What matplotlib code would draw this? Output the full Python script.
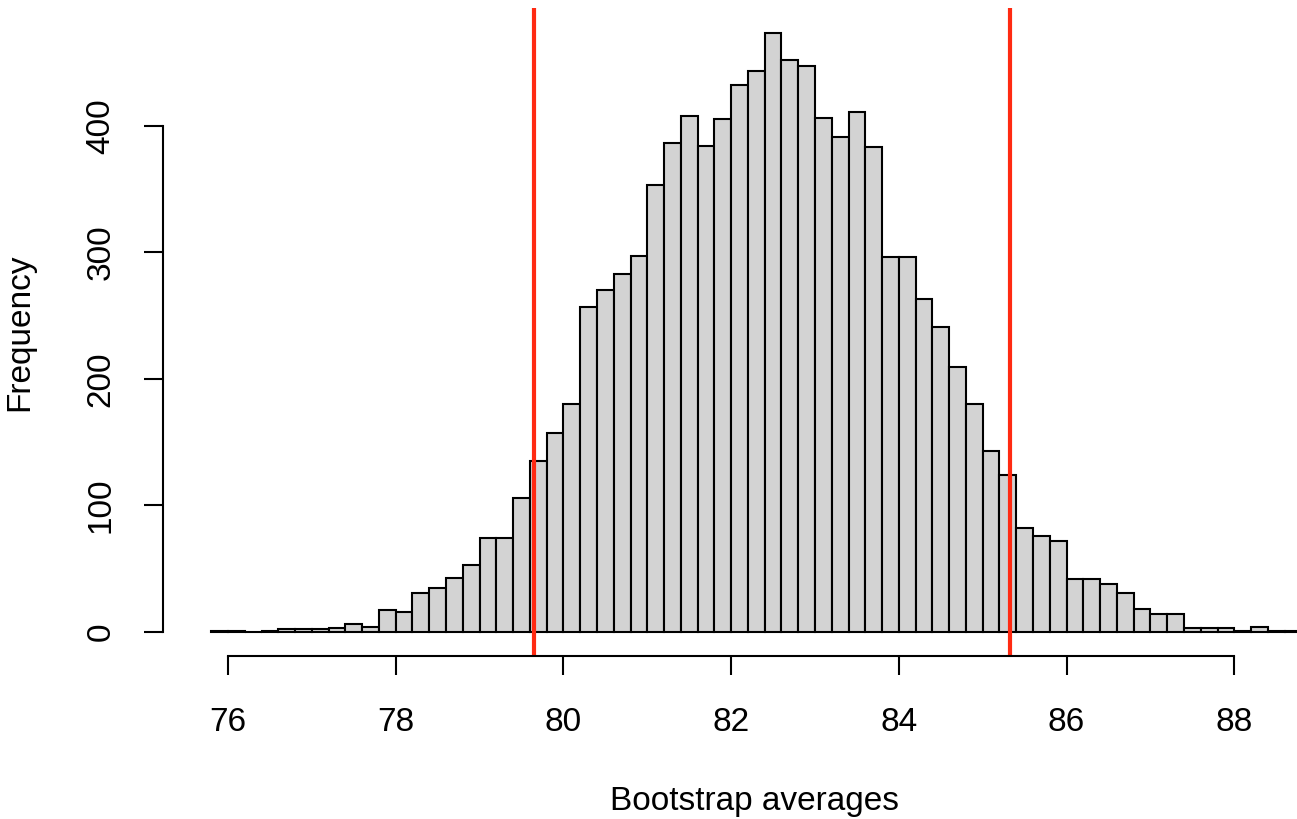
# Bootstrap averages histogram (R-style base graphics look)

import numpy as np
import matplotlib.pyplot as plt

plt.rcParams['font.family'] = ['Liberation Sans', 'DejaVu Sans']

# bin layout: 0.2 wide bins starting at 75.8
bin_start = 75.8
bin_width = 0.2
counts = [1, 1, 0, 1, 2, 2, 2, 3, 6, 4,
          17, 16, 31, 35, 43, 53, 74, 74, 106, 135,
          157, 180, 257, 270, 283, 297, 353, 386, 408, 384,
          405, 432, 443, 473, 452, 447, 406, 391, 411, 383,
          296, 296, 263, 241, 209, 180, 143, 124, 82, 76,
          72, 42, 42, 38, 31, 18, 14, 14, 3, 3,
          3, 1, 4, 1, 1]

# confidence interval limits (red lines)
ci_low = 79.645
ci_high = 85.33

x_ticks = [76, 78, 80, 82, 84, 86, 88]
y_ticks = [0, 100, 200, 300, 400]

edges = bin_start + bin_width * np.arange(len(counts))

fig = plt.figure(figsize=(12.97, 8.19), dpi=100)
# plot region runs past the right edge of the picture, like the cropped original
ax = fig.add_axes([163/1297, 163/819, 1182/1297, 648/819])

ax.bar(edges, counts, width=bin_width, align='edge',
       color='#d3d3d3', edgecolor='black', linewidth=1.5)

ax.axvline(ci_low, color='#ff2a12', linewidth=3)
ax.axvline(ci_high, color='#ff2a12', linewidth=3)

ax.set_xlim(75.225, 89.32)
ax.set_ylim(-19, 493)

for s in ['top', 'right']:
    ax.spines[s].set_visible(False)
ax.spines['bottom'].set_bounds(76, 88)
ax.spines['left'].set_bounds(0, 400)
ax.spines['bottom'].set_linewidth(1.5)
ax.spines['left'].set_linewidth(1.5)

ax.set_xticks(x_ticks)
ax.set_yticks(y_ticks)
ax.tick_params(axis='both', direction='out', length=13.5, width=1.5,
               labelsize=24, pad=20)
ax.tick_params(axis='x', pad=23)
plt.setp(ax.get_yticklabels(), rotation=90, va='center')

ax.set_xlabel('Bootstrap averages', fontsize=24, labelpad=35)
ax.set_ylabel('Frequency', fontsize=24, labelpad=36)

fig.savefig('out.png', dpi=100)
